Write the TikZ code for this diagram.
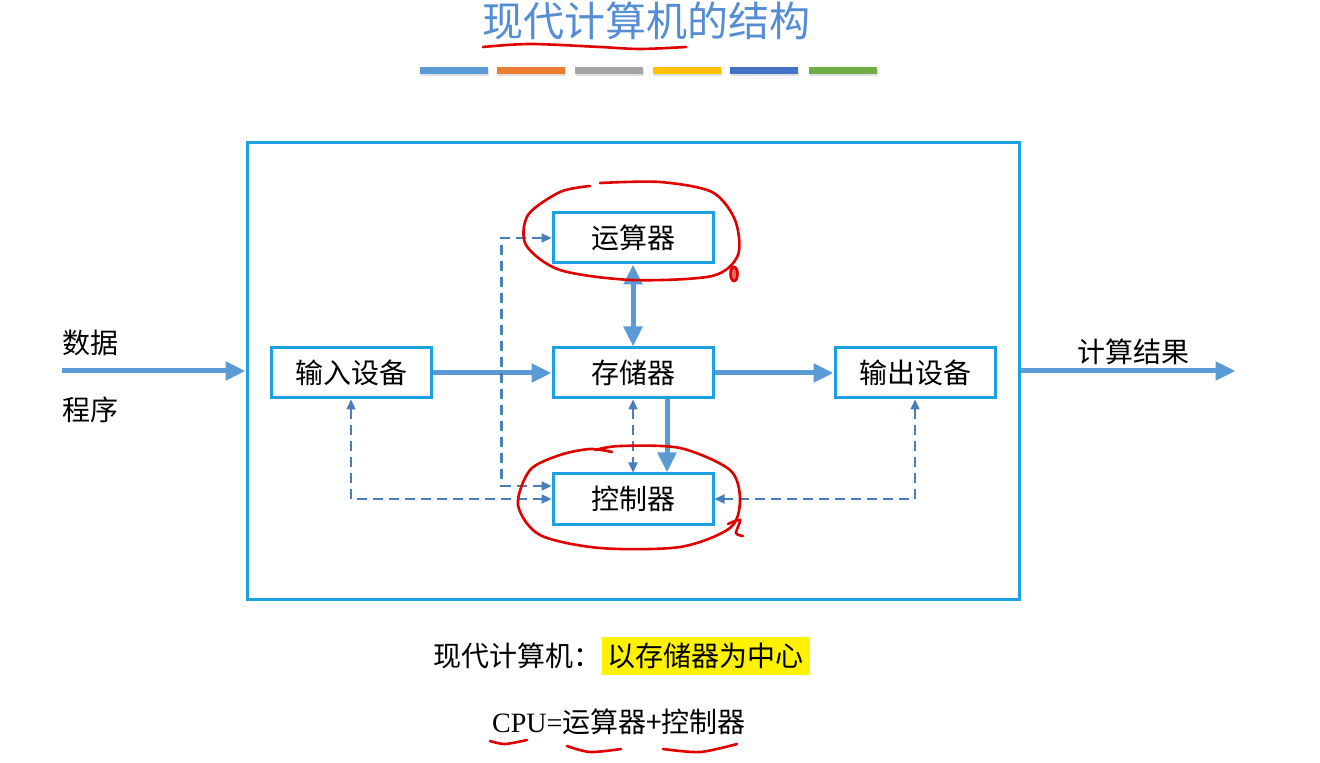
\documentclass[tikz,border=0pt]{standalone}
\usepackage{fontspec}
\setmainfont{Liberation Serif}
\newfontfamily\cjk{Noto Sans CJK SC}
\usepackage{xcolor}
\usetikzlibrary{arrows.meta, positioning, calc}
\definecolor{frameblue}{RGB}{27, 161, 226}
\definecolor{arrowblue}{RGB}{91, 155, 213}
\definecolor{dashblue}{RGB}{74, 126, 187}
\definecolor{titleblue}{RGB}{84, 141, 212}
\definecolor{barorange}{RGB}{237, 125, 49}
\definecolor{bargray}{RGB}{165, 165, 165}
\definecolor{bargold}{RGB}{255, 192, 0}
\definecolor{bardark}{RGB}{68, 114, 196}
\definecolor{bargreen}{RGB}{112, 173, 71}
\definecolor{penred}{RGB}{225, 0, 0}

\begin{document}
\begin{tikzpicture}[
          x=0.5pt, y=-0.5pt,
          box/.style={draw=frameblue, line width=1.5pt, minimum width=80pt, minimum height=25pt,
                      inner sep=0pt, font=\cjk\fontsize{14}{14}\selectfont},
          lbl/.style={inner sep=1pt, font=\cjk\fontsize{14}{14}\selectfont},
          arr/.style={-{Triangle[length=10pt, width=9pt]}, line width=2.5pt, draw=arrowblue},
          darr/.style={{Triangle[length=5pt, width=4.5pt]}-{Triangle[length=5pt, width=4.5pt]},
                       line width=1.1pt, draw=dashblue, dash pattern=on 5pt off 3pt},
          pen/.style={draw=penred, line width=1.3pt, line cap=round},
        ]
        \useasboundingbox[fill=white] (0,0) rectangle (1320,763);

        % title and colour bars
        \node[font=\cjk\fontsize{20.5}{20.5}\selectfont, text=titleblue] (title) at (646,21) {现代计算机的结构};
        \foreach \bx/\bc in {420/arrowblue, 497/barorange, 575/bargray, 653/bargold, 730/bardark, 809/bargreen} {
          \fill[black!12] (\bx+1,69) rectangle ++(68,7);
          \fill[\bc] (\bx,67) rectangle ++(68,7);
        }

        % frame and units
        \node[draw=frameblue, line width=1.5pt, minimum width=386pt, minimum height=228pt] (frame) at (633,371) {};
        \node[box] (mem) at (633,373) {存储器};
        \node[box, above=41pt of mem] (alu) {运算器};
        \node[box, below=36.5pt of mem] (ctl) {控制器};
        \node[box, left=59.5pt of mem] (in) {输入设备};
        \node[box, right=59.5pt of mem] (out) {输出设备};

        \node[lbl] (data) at (90,343) {数据};
        \node[lbl] (prog) at (90,410) {程序};
        \node[lbl] (result) at (1133,352) {计算结果};
        \coordinate (datain) at (62,371);
        \coordinate (resout) at ($(frame.east)+(215,0)$);

        % data paths
        \draw[arr] (datain) -- (frame.west);
        \draw[arr] (in) -- (mem);
        \draw[arr] (mem) -- (out);
        \draw[arr] (frame.east) -- (resout);
        \draw[arr, {Triangle[length=10pt, width=9pt]}-{Triangle[length=10pt, width=9pt]}] (alu) -- (mem);
        \draw[arr] ([xshift=17pt]mem.south) -- ([xshift=17pt]ctl.north);

        % control signals
        \draw[darr] (mem.south) -- (ctl.north);
        \draw[darr] (alu.west) -- ++(-50,0) |- ([yshift=6.5pt]ctl.west);
        \draw[darr] (in.south) |- (ctl.west);
        \draw[darr] (out.south) |- (ctl.east);

        % bottom notes
        \node[lbl, inner sep=0pt] (modern) at (517,656) {现代计算机：};
        \node[lbl, fill=yellow, inner sep=3pt, right=0pt of modern] (core) {以存储器为中心};
        \node[lbl, font=\fontsize{14}{14}\selectfont] (cpu) at (619,722) {CPU=\cjk 运算器+控制器};

        % red pen marks
        \draw[pen] plot[smooth] coordinates {(483,47) (530,44) (600,47) (640,49) (686,47)};
        \draw[pen] plot[smooth] coordinates {(590,186) (560,192) (528,215) (526,245) (560,270) (632,280) (712,276) (738,255) (735,220) (712,192) (660,182) (600,183)};
        \draw[pen, fill=penred!60] (734,274) ellipse (3.5 and 7);
        \draw[pen] plot[smooth] coordinates {(595,450) (620,446) (680,448) (730,470) (740,500) (730,528) (680,547) (600,548) (540,535) (518,505) (530,470) (560,455) (590,449) (612,452)};
        \draw[pen] plot[smooth] coordinates {(728,524) (740,520) (736,533) (743,536)};
        \draw[pen] plot[smooth] coordinates {(490,741) (505,744) (527,740)};
        \draw[pen] plot[smooth] coordinates {(567,746) (590,752) (621,749)};
        \draw[pen] plot[smooth] coordinates {(663,749) (700,752) (737,744)};
      \end{tikzpicture}
\end{document}
